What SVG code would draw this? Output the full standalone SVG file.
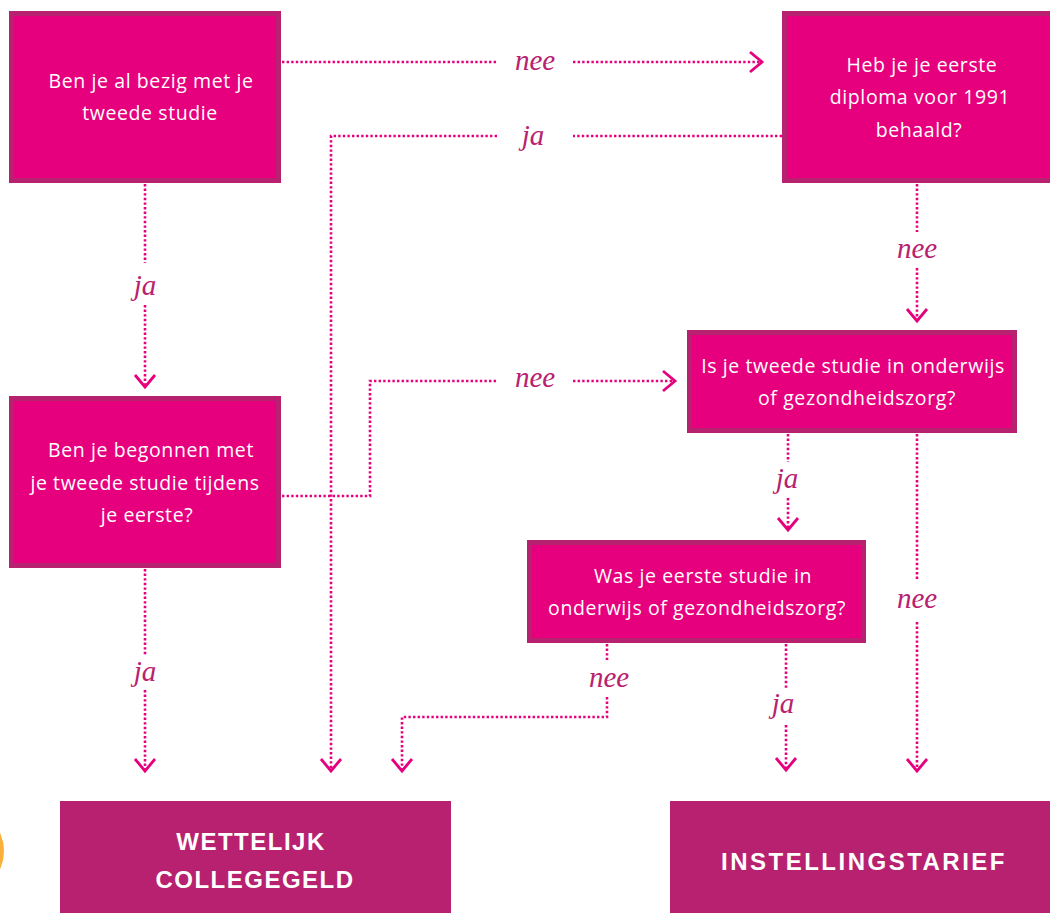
<svg xmlns="http://www.w3.org/2000/svg" width="1050" height="913" viewBox="0 0 1050 913">
<defs>
<style>
.q{fill:#E6007E;stroke:#B8216F;stroke-width:5}
.r{fill:#B8216F}
.t{font-family:"Open Sans","Liberation Sans",sans-serif;font-size:19.5px;fill:#FFFFFF;text-anchor:middle;letter-spacing:0.6px}
.b{font-family:"Liberation Sans","Open Sans",sans-serif;font-weight:bold;font-size:24px;fill:#FFFFFF;text-anchor:middle;letter-spacing:1.5px}
.l{font-family:"Liberation Serif","DejaVu Serif",serif;font-style:italic;font-size:29px;fill:#B8216F;text-anchor:middle}
.c{fill:none;stroke:#E6007E;stroke-width:2.6;stroke-dasharray:2.4 2.2}
.a{marker-end:url(#arr)}
</style>
<marker id="arr" markerUnits="userSpaceOnUse" markerWidth="30" markerHeight="30" refX="0" refY="0" orient="auto" overflow="visible">
<path d="M-12,-10 L0,0 L-12,10" fill="none" stroke="#E6007E" stroke-width="2.8" stroke-dasharray="none"/>
</marker>
</defs>
<rect width="1050" height="913" fill="#FFFFFF"/>
<circle cx="-40" cy="851" r="44" fill="#FBB03B"/>

<g id="connectors">
<path class="c" d="M282,62 H497"/>
<path class="c a" d="M573,62 H762"/>
<path class="c" d="M782,136 H573"/>
<path class="c a" d="M497,136 H331 V771"/>
<path class="c" d="M145,184 V263"/>
<path class="c a" d="M145,305 V387"/>
<path class="c" d="M917,184 V232"/>
<path class="c a" d="M917,268 V321"/>
<path class="c" d="M282,496 H370 V381 H497"/>
<path class="c a" d="M573,381 H675"/>
<path class="c" d="M788,434 V462"/>
<path class="c a" d="M788,498 V530"/>
<path class="c" d="M917,434 V580"/>
<path class="c a" d="M917,622 V771"/>
<path class="c" d="M607,644 V660"/>
<path class="c a" d="M607,697 V717 H402 V771"/>
<path class="c" d="M786,644 V688"/>
<path class="c a" d="M786,725 V770"/>
<path class="c" d="M145,569 V655"/>
<path class="c a" d="M145,690 V771"/>
<text class="l" x="535" y="70">nee</text>
<text class="l" x="533" y="145">ja</text>
<text class="l" x="145" y="295">ja</text>
<text class="l" x="917" y="258">nee</text>
<text class="l" x="535" y="387">nee</text>
<text class="l" x="787" y="488">ja</text>
<text class="l" x="917" y="608">nee</text>
<text class="l" x="609" y="687">nee</text>
<text class="l" x="783" y="713">ja</text>
<text class="l" x="145" y="681">ja</text>
</g>

<g id="n1">
<rect class="q" x="11.5" y="13.5" width="267" height="167"/>
<text class="t" x="151" y="88">Ben je al bezig met je</text>
<text class="t" x="150" y="120">tweede studie</text>
</g>
<g id="n2">
<rect class="q" x="784.5" y="13.5" width="270" height="167"/>
<text class="t" x="922" y="72">Heb je je eerste</text>
<text class="t" x="920" y="104">diploma voor 1991</text>
<text class="t" x="919" y="137">behaald?</text>
</g>
<g id="n3">
<rect class="q" x="689.5" y="332.5" width="325" height="98"/>
<text class="t" x="853" y="373">Is je tweede studie in onderwijs</text>
<text class="t" x="857" y="405">of gezondheidszorg?</text>
</g>
<g id="n4">
<rect class="q" x="11.5" y="398.5" width="267" height="167"/>
<text class="t" x="151" y="457">Ben je begonnen met</text>
<text class="t" x="145" y="490">je tweede studie tijdens</text>
<text class="t" x="147" y="522">je eerste?</text>
</g>
<g id="n5">
<rect class="q" x="529.5" y="542.5" width="334" height="98"/>
<text class="t" x="703" y="583">Was je eerste studie in</text>
<text class="t" x="697" y="615">onderwijs of gezondheidszorg?</text>
</g>
<g id="n6">
<rect class="r" x="60" y="801" width="391" height="112"/>
<text class="b" x="251" y="850">WETTELIJK</text>
<text class="b" x="255" y="888">COLLEGEGELD</text>
</g>
<g id="n7">
<rect class="r" x="670" y="801" width="380" height="112"/>
<text class="b" x="864" y="870" style="letter-spacing:2.5px">INSTELLINGSTARIEF</text>
</g>
</svg>
